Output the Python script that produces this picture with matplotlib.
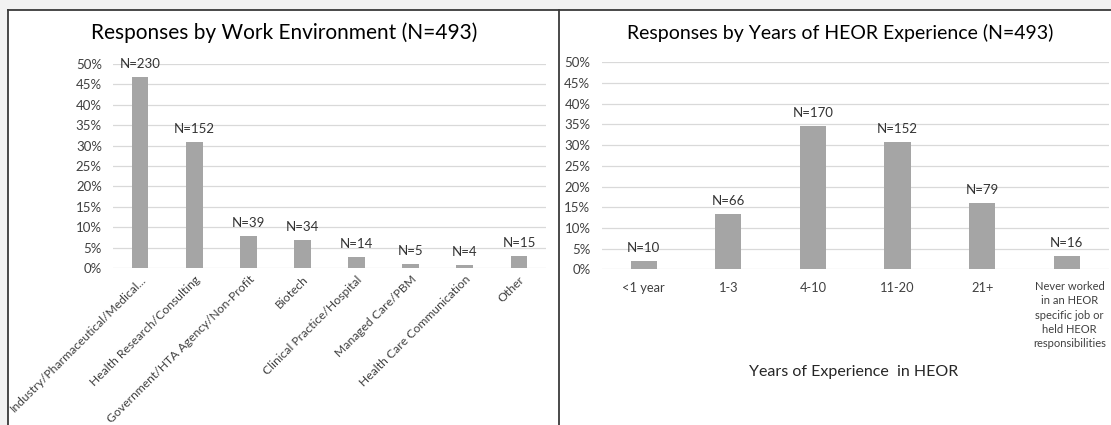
import matplotlib
matplotlib.use("Agg")
import matplotlib.pyplot as plt
import matplotlib.transforms as mtransforms
from matplotlib.lines import Line2D
from matplotlib.patches import Rectangle
import numpy as np

plt.rcParams['font.family'] = ['Lato', 'DejaVu Sans']

env_labels = ['Industry/Pharmaceutical/Medical...', 'Health Research/Consulting',
              'Government/HTA Agency/Non-Profit', 'Biotech', 'Clinical Practice/Hospital',
              'Managed Care/PBM', 'Health Care Communication', 'Other']
env_counts = [230, 152, 39, 34, 14, 5, 4, 15]
env_pct = [46.7, 30.8, 7.9, 6.9, 2.8, 1.0, 0.8, 3.0]

exp_labels = ['<1 year', '1-3', '4-10', '11-20', '21+',
              'Never worked\nin an HEOR\nspecific job or\nheld HEOR\nresponsibilities']
exp_counts = [10, 66, 170, 152, 79, 16]
exp_pct = [2.0, 13.4, 34.5, 30.8, 16.0, 3.2]

W, H = 1111, 425
BAR = '#a5a5a5'
GRID = '#d9d9d9'
TICK = '#404040'
NOTE = '#333333'

fig = plt.figure(figsize=(W / 100, H / 100), dpi=100, facecolor='white')

# screenshot frame
fig.add_artist(Rectangle((0, 1 - 9.5 / H), 1, 9.5 / H, transform=fig.transFigure,
                         facecolor='#f2f2f2', edgecolor='none'))
fig.add_artist(Rectangle((0, 0), 8 / W, 1, transform=fig.transFigure,
                         facecolor='#f2f2f2', edgecolor='none'))
fig.add_artist(Line2D([8 / W, 1], [1 - 9.5 / H] * 2, transform=fig.transFigure,
                      color='#3a3a3a', lw=1.3))
fig.add_artist(Line2D([8 / W] * 2, [0, 1 - 9.5 / H], transform=fig.transFigure,
                      color='#3a3a3a', lw=1.3))
fig.add_artist(Line2D([558.5 / W] * 2, [0, 1 - 9.5 / H], transform=fig.transFigure,
                      color='#3a3a3a', lw=1.3))


def px_axes(x0, x1, ybot, ytop):
    return fig.add_axes([x0 / W, 1 - ybot / H, (x1 - x0) / W, (ybot - ytop) / H])


def style(ax, n):
    ax.set_xlim(-0.5, n - 0.5)
    ax.set_ylim(0, 50)
    ax.set_yticks(np.arange(0, 51, 5))
    ax.set_yticklabels([f'{v}%' for v in range(0, 51, 5)])
    for s in ax.spines.values():
        s.set_visible(False)
    ax.yaxis.grid(True, color=GRID, lw=0.9)
    ax.set_axisbelow(True)
    ax.tick_params(axis='both', length=0, colors=TICK, labelsize=9.5)
    ax.tick_params(axis='y', pad=8)
    ax.set_facecolor('none')


def notes(ax, counts, pct):
    for i, (c, p) in enumerate(zip(counts, pct)):
        ax.annotate(f'N={c}', (i, p), xytext=(0, 13), textcoords='offset pixels',
                    ha='center', va='center', fontsize=9.5, color=NOTE)


# left: work environment
ax1 = px_axes(113, 546, 268, 64)
x1 = np.arange(len(env_labels))
ax1.bar(x1, env_pct, width=0.31, color=BAR)
style(ax1, len(env_labels))
notes(ax1, env_counts, env_pct)
ax1.set_xticks(x1)
ax1.set_xticklabels(env_labels, rotation=45, ha='right', va='center',
                    rotation_mode='anchor', fontsize=8.7)
ax1.tick_params(axis='x', pad=7)
shift = mtransforms.ScaledTranslation(4 / 100, 0, fig.dpi_scale_trans)
for lab in ax1.get_xticklabels():
    lab.set_transform(lab.get_transform() + shift)
fig.text(284 / W, 1 - 33 / H, 'Responses by Work Environment (N=493)',
         ha='center', va='center', fontsize=15, color='#000000')

# right: years of experience
ax2 = px_axes(601.5, 1109, 269.3, 62.3)
x2 = np.arange(len(exp_labels))
ax2.bar(x2, exp_pct, width=0.31, color=BAR)
style(ax2, len(exp_labels))
notes(ax2, exp_counts, exp_pct)
ax2.set_xticks(x2)
ax2.set_xticklabels(exp_labels[:-1] + [''], fontsize=9.3)
ax2.tick_params(axis='x', pad=9)
# the long last label is nudged right so it stays inside the panel, like Excel does
tr = mtransforms.blended_transform_factory(ax2.transData, ax2.transAxes) + \
    mtransforms.ScaledTranslation(3 / 100, 0, fig.dpi_scale_trans)
ax2.text(x2[-1], -12 / 207, exp_labels[-1], transform=tr, ha='center', va='top',
         fontsize=8, linespacing=1.35, color=TICK)
fig.text(840 / W, 1 - 33 / H, 'Responses by Years of HEOR Experience (N=493)',
         ha='center', va='center', fontsize=14, color='#000000')
fig.text(854 / W, 1 - 372 / H, 'Years of Experience  in HEOR',
         ha='center', va='center', fontsize=11.5, color='#262626')

fig.savefig('out.png', dpi=100, facecolor='white')
